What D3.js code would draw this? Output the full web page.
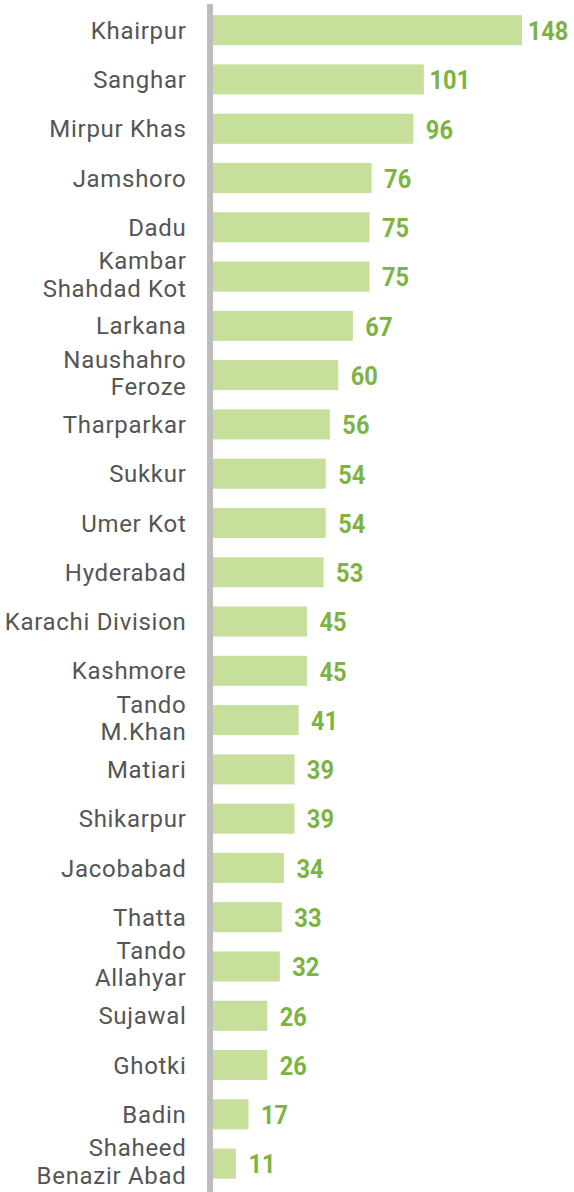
<!DOCTYPE html>
<html>
<head>
<meta charset="utf-8">
<script src="https://cdn.jsdelivr.net/npm/d3@7"></script>
<style>
  body { margin: 0; background: #fff; }
  svg { display: block; }
</style>
</head>
<body>
<div id="chart"></div>
<script>
// district names (\n marks where the label wraps)
const districts = [
    "Khairpur", "Sanghar", "Mirpur Khas", "Jamshoro", "Dadu",
    "Kambar\nShahdad Kot", "Larkana", "Naushahro\nFeroze", "Tharparkar", "Sukkur",
    "Umer Kot", "Hyderabad", "Karachi Division", "Kashmore", "Tando\nM.Khan",
    "Matiari", "Shikarpur", "Jacobabad", "Thatta", "Tando\nAllahyar",
    "Sujawal", "Ghotki", "Badin", "Shaheed\nBenazir Abad"
];
const counts = [
    148, 101, 96, 76, 75,
    75, 67, 60, 56, 54,
    54, 53, 45, 45, 41,
    39, 39, 34, 33, 32,
    26, 26, 17, 11
];

const width = 574, height = 1192;
const barColor = "#c6e09c", valueColor = "#7cb342", labelColor = "#555555", axisColor = "#bdbdbd";

const svg = d3.select("#chart").append("svg")
    .attr("width", width)
    .attr("height", height);

const data = districts.map((d, i) => ({ name: d, value: counts[i] }));

const x = d3.scaleLinear()
    .domain([0, 148])
    .range([213, 522]);

const y = d3.scaleBand()
    .domain(districts)
    .range([5.3, 1188.5])
    .paddingInner(0.39)
    .paddingOuter(0.2);

// bars
svg.selectAll("rect.bar")
    .data(data)
    .enter()
    .append("rect")
    .attr("class", "bar")
    .attr("x", x(0))
    .attr("y", d => y(d.name))
    .attr("width", d => x(d.value) - x(0))
    .attr("height", y.bandwidth())
    .attr("fill", barColor);

// axis line on the left
svg.append("line")
    .attr("x1", 210).attr("x2", 210)
    .attr("y1", 4).attr("y2", height)
    .attr("stroke", axisColor)
    .attr("stroke-width", 6);

// category labels
const labels = svg.selectAll("text.cat")
    .data(data)
    .enter()
    .append("text")
    .attr("class", "cat")
    .attr("text-anchor", "end")
    .attr("font-family", "Roboto, 'Noto Sans', sans-serif")
    .attr("font-size", 24)
    .attr("letter-spacing", 0.7)
    .attr("fill", labelColor);

labels.each(function (d) {
    let lines = d.name.split("\n");
    let cy = y(d.name) + y.bandwidth() / 2;
    let first = lines.length > 1 ? cy - 7.5 : cy + 8.6;
    lines.forEach((line, i) => {
        d3.select(this).append("tspan")
            .attr("x", 186.5)
            .attr("y", first + i * 27.5)
            .text(line);
    });
});

// value labels
svg.selectAll("text.val")
    .data(data)
    .enter()
    .append("text")
    .attr("class", "val")
    .attr("text-anchor", "middle")
    .attr("font-family", "Roboto, 'Noto Sans', sans-serif")
    .attr("font-weight", "bold")
    .attr("font-size", 26)
    .attr("fill", valueColor)
    .attr("transform", d => "translate(" + (x(d.value) + 26) + "," + (y(d.name) + y.bandwidth() / 2 + 9.8) + ") scale(0.91,1)")
    .text(d => d.value);
</script>
</body>
</html>
